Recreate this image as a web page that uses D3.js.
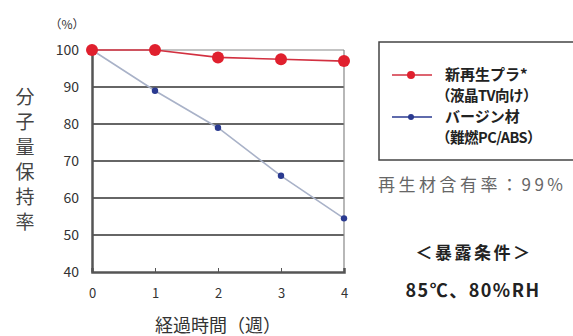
<!DOCTYPE html>
<html><head><meta charset="utf-8">
<script src="https://cdn.jsdelivr.net/npm/d3@7"></script>
<style>body{margin:0;background:#fff}svg{display:block}text{font-family:"Noto Sans CJK JP","Noto Sans",sans-serif}</style>
</head><body>
<svg id="c" width="573" height="336"></svg>
<script>
const weeks = [0, 1, 2, 3, 4];
const recycled = [100, 100, 98, 97.5, 97];
const virgin = [100, 89, 79, 66, 54.5];
const yTicks = [40, 50, 60, 70, 80, 90, 100];
const yTitle = ["分", "子", "量", "保", "持", "率"];
const legendLabels = [["新再生プラ*", "（液晶TV向け）"], ["バージン材", "（難燃PC/ABS）"]];

const svg = d3.select("#c");
const x = d3.scaleLinear().domain([0, 4]).range([92, 344]);
const y = d3.scaleLinear().domain([40, 100]).range([272, 50]);

// gridlines
svg.append("g").selectAll("line").data(yTicks.filter(d => d > 40 && d < 100)).join("line")
  .attr("x1", x(0)).attr("x2", x(4)).attr("y1", d => y(d)).attr("y2", d => y(d))
  .attr("stroke", "#333").attr("stroke-width", 1.6);
// top line and right border
svg.append("line").attr("x1", x(0)).attr("x2", x(4)).attr("y1", y(100)).attr("y2", y(100)).attr("stroke", "#888").attr("stroke-width", 1.2);
svg.append("line").attr("x1", x(4)).attr("x2", x(4)).attr("y1", y(100)).attr("y2", y(40)).attr("stroke", "#888").attr("stroke-width", 1.2);

// axes
const yAxis = d3.axisLeft(y).tickValues(yTicks).tickSize(0).tickPadding(13);
const gy = svg.append("g").attr("transform", `translate(${x(0)},0)`).call(yAxis);
gy.select(".domain").attr("stroke", "#555").attr("stroke-width", 2.5);
gy.selectAll("text").attr("font-size", 14).attr("fill", "#333").attr("font-family", "Arial, Liberation Sans, sans-serif");

const xAxis = d3.axisBottom(x).tickValues(weeks).tickFormat(d3.format("d")).tickSize(-4).tickPadding(17);
const gx = svg.append("g").attr("transform", `translate(0,${y(40)})`).call(xAxis);
gx.select(".domain").attr("stroke", "#555").attr("stroke-width", 2.5);
gx.selectAll(".tick line").attr("stroke", "#555");
gx.selectAll("text").attr("font-size", 13).attr("fill", "#333").attr("font-family", "Arial, Liberation Sans, sans-serif");

// lines
const line = d3.line().x((d, i) => x(weeks[i])).y(d => y(d));
svg.append("path").datum(virgin).attr("d", line).attr("fill", "none").attr("stroke", "#a9b2c8").attr("stroke-width", 1.6);
svg.append("path").datum(recycled).attr("d", line).attr("fill", "none").attr("stroke", "#d23040").attr("stroke-width", 1.6);
svg.append("g").selectAll("circle").data(virgin).join("circle")
  .attr("cx", (d, i) => x(weeks[i])).attr("cy", d => y(d)).attr("r", 3.2).attr("fill", "#2a3a90");
svg.append("g").selectAll("circle").data(recycled).join("circle")
  .attr("cx", (d, i) => x(weeks[i])).attr("cy", d => y(d)).attr("r", 6).attr("fill", "#e0202e");

// (%) label
svg.append("text").attr("x", 67).attr("y", 29).attr("text-anchor", "middle").attr("font-size", 12).attr("fill", "#333").text("（%）");
// y title
svg.append("g").selectAll("text").data(yTitle).join("text")
  .attr("x", 25).attr("y", (d, i) => 104 + i * 25).attr("text-anchor", "middle")
  .attr("font-size", 19).attr("fill", "#444").text(d => d);
// x title
svg.append("text").attr("x", 218).attr("y", 332).attr("text-anchor", "middle").attr("font-size", 18).attr("fill", "#333").text("経過時間（週）");

// legend
svg.append("rect").attr("x", 379).attr("y", 42).attr("width", 200).attr("height", 118).attr("fill", "none").attr("stroke", "#444").attr("stroke-width", 1.5);
const legColors = [["#d23040", "#e0202e", 4], ["#2a3a90", "#2a3a90", 3]];
const legY = [75, 117];
legendLabels.forEach((lab, i) => {
  svg.append("line").attr("x1", 392).attr("x2", 432).attr("y1", legY[i]).attr("y2", legY[i]).attr("stroke", legColors[i][0]).attr("stroke-width", 1.5);
  svg.append("circle").attr("cx", 411).attr("cy", legY[i]).attr("r", legColors[i][2]).attr("fill", legColors[i][1]);
  svg.append("text").attr("x", 445).attr("y", legY[i] + 5).attr("font-size", 15).attr("font-weight", "bold").attr("fill", "#222").text(lab[0]);
  svg.append("text").attr("x", 436).attr("y", legY[i] + 26).attr("font-size", 14.5).attr("font-weight", "bold").attr("fill", "#222").attr("letter-spacing", -0.5).text(lab[1]);
});

svg.append("text").attr("x", 378).attr("y", 191).attr("font-size", 17).attr("letter-spacing", 3.5).attr("fill", "#666").text("再生材含有率：99%");
svg.append("text").attr("x", 474).attr("y", 259).attr("text-anchor", "middle").attr("font-size", 17).attr("letter-spacing", 2.5).attr("font-weight", "bold").attr("fill", "#222").text("＜暴露条件＞");
svg.append("text").attr("x", 473).attr("y", 297).attr("text-anchor", "middle").attr("font-size", 18).attr("letter-spacing", 1.5).attr("font-weight", "bold").attr("fill", "#222").text("85℃、80%RH");
</script>
</body></html>
